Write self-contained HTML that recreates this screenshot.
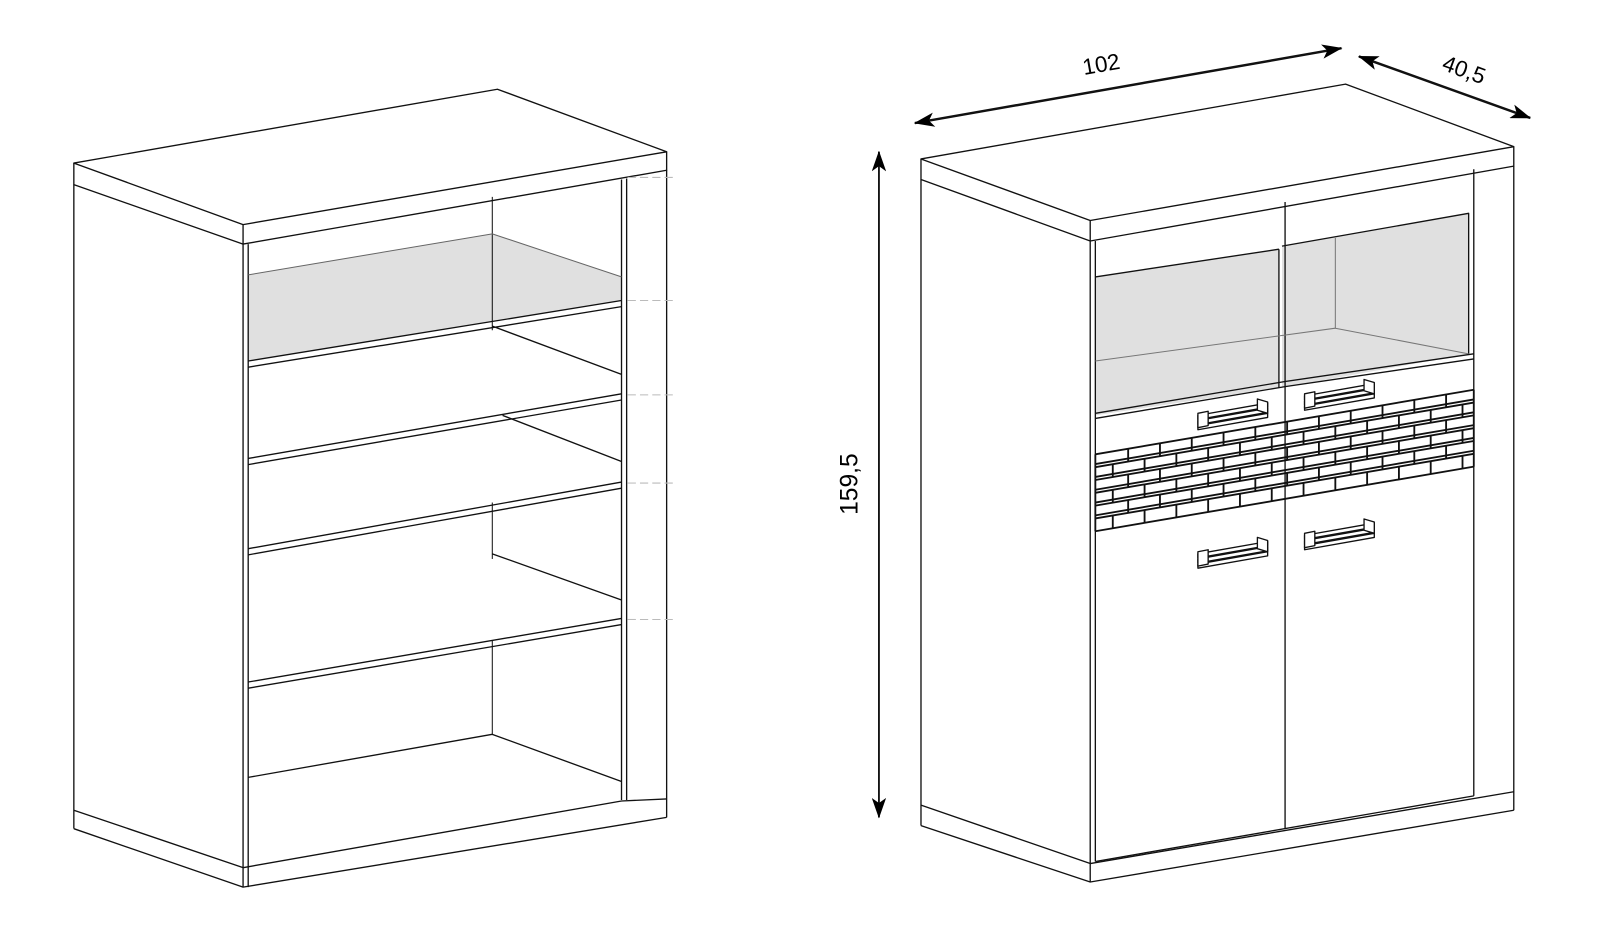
<!DOCTYPE html>
<html><head><meta charset="utf-8"><style>
html,body{margin:0;padding:0;background:#fff;}
svg{display:block;}
text{font-family:"Liberation Sans",sans-serif;}
</style></head><body>
<svg id="s" width="1600" height="938" viewBox="0 0 1600 938" xmlns="http://www.w3.org/2000/svg">
<defs>
<marker id="ah" viewBox="0 0 20 14" refX="19" refY="7" markerWidth="20" markerHeight="14" markerUnits="userSpaceOnUse" orient="auto-start-reverse">
<path d="M0,0 L20,7 L0,14 L5,7 Z" fill="#000"/>
</marker>
</defs>
<g transform="scale(1.0256)">
<g fill="none" stroke="#111" stroke-width="1.3" stroke-linejoin="round">
<!-- LEFT CABINET -->
<polygon points="242,268 480,228 606,270 606,293 242,352" fill="#e0e0e0" stroke="none"/>
<polygon points="72,159 485,87 650,148 237,219" fill="#fff"/>
<polyline points="72,159 72,180 237,238 650,166 650,148"/>
<line x1="237" y1="219" x2="237" y2="865"/>
<line x1="242" y1="238" x2="242" y2="865"/>
<line x1="72" y1="180" x2="72" y2="808"/>
<line x1="650" y1="166" x2="650" y2="797"/>
<line x1="606" y1="175" x2="606" y2="780"/>
<line x1="611" y1="174" x2="611" y2="780"/>
<polyline points="72,790 237,846 606,781 650,779"/>
<polyline points="72,808 237,865 650,797"/>
<line x1="480" y1="192" x2="480" y2="322" stroke-width="1"/>
<line x1="480" y1="490" x2="480" y2="545" stroke-width="1"/>
<line x1="480" y1="625" x2="480" y2="716" stroke-width="1"/>
<polyline points="242,268 480,228 606,270" stroke="#666" stroke-width="1"/>
<polyline points="242,352 606,293"/><polyline points="242,358 606,299"/>
<line x1="480" y1="318" x2="606" y2="365"/>
<polyline points="242,447 606,384"/><polyline points="242,453 606,390"/>
<line x1="490" y1="405" x2="606" y2="450"/>
<polyline points="242,535 606,470"/><polyline points="242,541 606,476"/>
<line x1="480" y1="540" x2="606" y2="585"/>
<polyline points="242,665 606,603"/><polyline points="242,671 606,609"/>
<polyline points="242,758 480,716 606,762"/>
<g stroke="#bbb" stroke-width="1" stroke-dasharray="8,4">
<line x1="612" y1="173" x2="660" y2="173"/><line x1="612" y1="293" x2="660" y2="293"/>
<line x1="612" y1="385" x2="660" y2="385"/><line x1="612" y1="471" x2="660" y2="471"/>
<line x1="612" y1="604" x2="660" y2="604"/>
</g>
<!-- RIGHT CABINET -->
<polygon points="1068,270 1247,243 1247,378 1068,405" fill="#e0e0e0" stroke="none"/>
<polygon points="1250,240 1432,208 1432,345 1250,378" fill="#e0e0e0" stroke="none"/>
<polygon points="898,155 1312,82 1476,143 1063,215" fill="#fff"/>
<polyline points="898,155 898,175 1063,235 1476,162 1476,143"/>
<line x1="1063" y1="215" x2="1063" y2="860"/>
<line x1="1068" y1="235" x2="1068" y2="840"/>
<line x1="898" y1="175" x2="898" y2="805"/>
<line x1="1476" y1="162" x2="1476" y2="790"/>
<line x1="1437" y1="165" x2="1437" y2="776"/>
<polyline points="898,785 1063,842 1476,772"/>
<polyline points="898,805 1063,860 1476,790"/>
<line x1="1068" y1="840" x2="1437" y2="776"/>
<line x1="1253" y1="197" x2="1253" y2="808"/>
<line x1="1247" y1="243" x2="1247" y2="378"/>
<polyline points="1068,270 1247,243"/>
<polyline points="1250,240 1432,208 1432,345"/>
<line x1="1302" y1="232" x2="1302" y2="320" stroke="#777" stroke-width="1"/>
<polyline points="1068,352 1302,320 1432,345" stroke="#777" stroke-width="1"/>
<polyline points="1068,403 1253,372 1437,345"/>
<polyline points="1068,408 1253,377 1437,350"/>
<g id="grid" stroke-width="1.8"></g>
<g id="handles" stroke-width="1.3"></g>
<g stroke-width="2.4">
<line x1="892" y1="120" x2="1308" y2="47" marker-start="url(#ah)" marker-end="url(#ah)"/>
<line x1="1325" y1="55" x2="1492" y2="115" marker-start="url(#ah)" marker-end="url(#ah)"/>
<line x1="857" y1="148" x2="857" y2="797" stroke-width="1.8" marker-start="url(#ah)" marker-end="url(#ah)"/>
</g>
</g>
<text x="1075" y="70" font-size="22" transform="rotate(-10 1075 70)" text-anchor="middle">102</text>
<text x="1425" y="75" font-size="22" transform="rotate(20 1425 75)" text-anchor="middle">40,5</text>
<text x="836" y="472" font-size="24" transform="rotate(-90 836 472)" text-anchor="middle">159,5</text>
</g>
</svg>
<script>
var ns="http://www.w3.org/2000/svg",g=document.getElementById('grid'),h=document.getElementById('handles');
function L(p,a){var e=document.createElementNS(ns,'line');e.setAttribute('x1',a[0]);e.setAttribute('y1',a[1]);e.setAttribute('x2',a[2]);e.setAttribute('y2',a[3]);p.appendChild(e);}
function P(p,pts,f){var e=document.createElementNS(ns,'polygon');e.setAttribute('points',pts);if(f)e.setAttribute('fill',f);p.appendChild(e);}
var x0=1068,x1=1437,s=(380-443)/(x1-x0);
function y(x,k){return 443+(x-x0)*s+k*12.5;}
for(var k=0;k<=6;k++){L(g,[x0,y(x0,k),x1,y(x1,k)]);if(k>0&&k<6)L(g,[x0,y(x0,k)-3,x1,y(x1,k)-3]);}
L(g,[x0,443,x0,518]);L(g,[x1,380,x1,455]);
for(var k=0;k<6;k++){var off=(k%2)?15:0;for(var x=x0+32-off;x<x1;x+=31){L(g,[x,y(x,k),x,y(x,k+1)]);}}
function H(cx,cy){var w=68,t=-12;
for(var i=0;i<3;i++){var d=i*5;P(h,cx+','+(cy+d)+' '+(cx+w)+','+(cy+t+d)+' '+(cx+w)+','+(cy+t+d+4)+' '+cx+','+(cy+d+4),'#fff');}
P(h,(cx+w-10)+','+(cy-16)+' '+(cx+w)+','+(cy-13)+' '+(cx+w)+','+(cy-2)+' '+(cx+w-10)+','+(cy-5),'#fff');
P(h,(cx)+','+(cy-2)+' '+(cx+10)+','+(cy-4)+' '+(cx+10)+','+(cy+10)+' '+cx+','+(cy+12),'#fff');}
H(1168,405);H(1272,386);H(1168,540);H(1272,522);
</script>
</body></html>
